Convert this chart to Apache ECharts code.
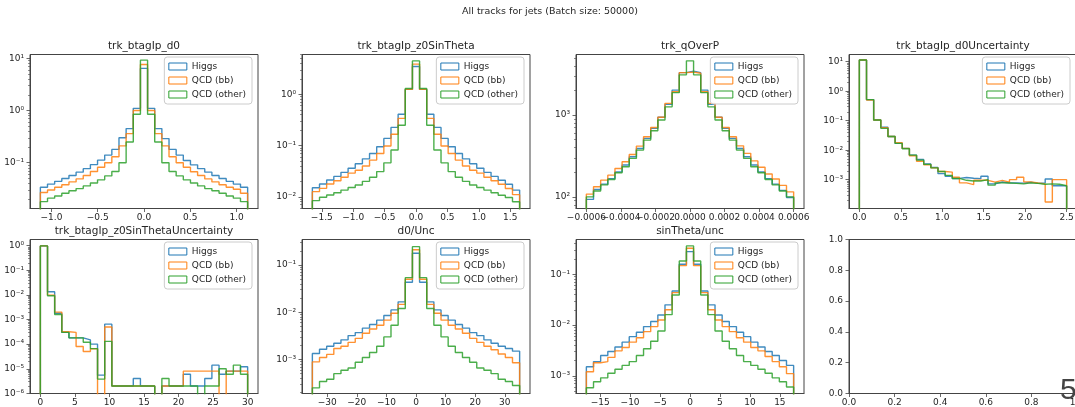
<!DOCTYPE html>
<html><head><meta charset="utf-8">
<script src="https://cdn.jsdelivr.net/npm/echarts@6/dist/echarts.min.js"></script>
<style>html,body{margin:0;padding:0;background:#fff}#c{width:1075px;height:407px}</style>
</head><body><div id="c"></div><script>
// ---------- data ----------
const seriesNames = ['Higgs', 'QCD (bb)', 'QCD (other)'];
const panelTitles = ['trk_btagIp_d0', 'trk_btagIp_z0SinTheta', 'trk_qOverP', 'trk_btagIp_d0Uncertainty',
  'trk_btagIp_z0SinThetaUncertainty', 'd0/Unc', 'sinTheta/unc', ''];
const figTitle = 'All tracks for jets (Batch size: 50000)';

// trk_btagIp_d0
const d0Range = [-1.12, 1.12];
const d0Ticks = [-1.0, -0.5, 0.0, 0.5, 1.0];
const d0Higgs = [0.034,0.039,0.044,0.050,0.057,0.066,0.077,0.092,0.112,0.14,0.18,0.30,0.45,1.1, 6.4, 1.1,0.45,0.29,0.18,0.14,0.11,0.091,0.077,0.066,0.057,0.050,0.044,0.039,0.034];
const d0QcdBB = [0.027,0.030,0.034,0.038,0.043,0.049,0.057,0.068,0.082,0.10,0.13,0.21,0.36,1.0, 7.6, 1.0,0.36,0.21,0.13,0.10,0.082,0.067,0.057,0.049,0.043,0.038,0.034,0.031,0.026];
const d0QcdOther = [0.018,0.021,0.023,0.026,0.029,0.032,0.036,0.041,0.047,0.056,0.068,0.10,0.25,0.85, 9.2, 0.85,0.25,0.10,0.068,0.056,0.047,0.041,0.036,0.032,0.029,0.026,0.023,0.021,0.018];

// trk_btagIp_z0SinTheta
const z0Range = [-1.65, 1.65];
const z0Ticks = [-1.5, -1.0, -0.5, 0.0, 0.5, 1.0, 1.5];
const z0Higgs = [0.015,0.0178,0.0213,0.025,0.030,0.036,0.044,0.055,0.070,0.095,0.138,0.226,0.41,1.25, 3.5, 1.25,0.41,0.226,0.138,0.095,0.070,0.055,0.044,0.036,0.030,0.025,0.021,0.0175,0.0135];
const z0QcdBB = [0.0126,0.0146,0.0178,0.0205,0.024,0.029,0.033,0.040,0.052,0.070,0.098,0.166,0.34,1.25, 3.9, 1.25,0.34,0.166,0.098,0.070,0.052,0.040,0.033,0.029,0.024,0.0205,0.0175,0.0145,0.011];
const z0QcdOther = [0.0084,0.0098,0.0108,0.012,0.0135,0.0152,0.017,0.020,0.024,0.031,0.046,0.082,0.25,1.3, 4.5, 1.3,0.25,0.082,0.046,0.031,0.024,0.020,0.017,0.0152,0.0135,0.012,0.0107,0.0097,0.0080];

// trk_qOverP
const qpRange = [-0.0006, 0.0006];
const qpTicks = [-0.0006, -0.0004, -0.0002, 0.0, 0.0002, 0.0004, 0.0006];
const qpHiggs = [93,123,143,167,202,245,309,390,518,687,940,1350,2020,3300, 3450, 3300,2020,1350,940,687,518,390,309,245,202,167,143,120,98];
const qpQcdBB = [108,133,160,184,222,268,330,417,543,705,940,1390,1930,3300, 3350, 3250,1930,1390,940,705,543,420,340,275,230,190,165,138,115];
const qpQcdOther = [100,118,140,163,197,233,295,373,494,643,870,1260,1880,3100, 4600, 3100,1880,1260,870,643,494,373,295,233,197,163,140,118,100];

// trk_btagIp_d0Uncertainty
const d0uRange = [0, 2.5];
const d0uTicks = [0.0, 0.5, 1.0, 1.5, 2.0, 2.5];
const d0uHiggs = [11.4,0.52,0.105,0.060,0.029,0.017,0.0115,0.0068,0.0048,0.0034,0.0026,0.0016,0.0013,0.0011,0.00118,0.00112,0.00108,0.0013,0.00072,0.00083,0.00078,0.00078,0.00076,0.00082,0.00075,0.00078,0.00105,0.00062,0.00062];
const d0uQcdBB = [11.4,0.50,0.105,0.058,0.029,0.018,0.0115,0.0065,0.0042,0.0032,0.0025,0.0019,0.0018,0.0012,0.00078,0.00068,0.00095,0.00095,0.00082,0.00095,0.00082,0.0010,0.0012,0.00084,0.00077,0.00072,0.000175,0.0010,0.0010];
const d0uQcdOther = [11.4,0.52,0.105,0.055,0.029,0.017,0.0112,0.0068,0.0046,0.0033,0.0025,0.0019,0.0014,0.0011,0.00095,0.0009,0.0009,0.0010,0.00065,0.00078,0.00077,0.00075,0.00072,0.00078,0.00075,0.00070,0.00072,0.00070,0.00062];

// trk_btagIp_z0SinThetaUncertainty
const z0uRange = [0, 30];
const z0uTicks = [0, 5, 10, 15, 20, 25, 30];
const z0uHiggs = [0.98,0.0135,0.0018,0.0003,0.00018,0.00018,0.00015,0.0001,5.5e-6,0.00065,2e-6,2e-6,2e-6,4e-6,2e-6,2e-6,0,2e-6,2e-6,2e-6,6e-6,2e-6,2e-6,4e-6,1.4e-5,6e-6,8e-6,8e-6,1.2e-5];
const z0uQcdBB = [0.98,0.0098,0.002,0.00032,0.0003,0.00008,0.00005,0.000065,0,0.0005,2e-6,2e-6,2e-6,2e-6,2e-6,2e-6,0,2e-6,2e-6,2e-6,8e-6,8e-6,8e-6,8e-6,8e-6,0,8e-6,8e-6,8e-6];
const z0uQcdOther = [0.98,0.0093,0.0016,0.0003,0.00018,0.00018,0.00012,0.000066,3.8e-6,0.00013,2e-6,2e-6,2e-6,2e-6,2e-6,2e-6,0,4e-6,2e-6,2e-6,2e-6,2e-6,0,2e-6,2e-6,1e-5,6e-6,1.4e-5,6e-6];

// d0/Unc
const sigRange = [-35, 35];
const sigTicks = [-30, -20, -10, 0, 10, 20, 30];
const sigHiggs = [0.00134,0.00165,0.0019,0.0022,0.0026,0.0032,0.0037,0.0046,0.0055,0.0068,0.0085,0.0112,0.0166,0.043, 0.177, 0.043,0.0166,0.0112,0.0085,0.0068,0.0055,0.0046,0.0037,0.0032,0.0026,0.0022,0.0019,0.0017,0.0015];
const sigQcdBB = [0.00089,0.0011,0.00128,0.0017,0.0019,0.0023,0.0028,0.0036,0.0044,0.0053,0.0068,0.0095,0.0147,0.05, 0.21, 0.05,0.0147,0.0095,0.0068,0.0053,0.0044,0.0036,0.0028,0.0023,0.0019,0.0016,0.0013,0.0011,0.00085];
const sigQcdOther = [0.00025,0.00034,0.00038,0.0005,0.00059,0.00066,0.00087,0.0011,0.0014,0.0019,0.003,0.0053,0.012,0.054, 0.245, 0.054,0.012,0.0053,0.003,0.0019,0.0014,0.0011,0.00087,0.00066,0.00059,0.0005,0.00038,0.00034,0.00028];

// sinTheta/unc
const stRange = [-17.3, 17.3];
const stTicks = [-15, -10, -5, 0, 5, 10, 15];
const stHiggs = [0.0015,0.0019,0.0025,0.003,0.0037,0.0046,0.0059,0.0072,0.0093,0.0117,0.0158,0.025,0.047,0.158, 0.28, 0.158,0.047,0.025,0.0158,0.0117,0.0093,0.0072,0.0059,0.0046,0.0037,0.003,0.0025,0.002,0.0016];
const stQcdBB = [0.0012,0.0018,0.0019,0.0023,0.0031,0.0036,0.0046,0.0056,0.0074,0.0093,0.0126,0.02,0.0435,0.148, 0.326, 0.148,0.0435,0.02,0.0126,0.0093,0.0074,0.0056,0.0046,0.0036,0.0031,0.0024,0.0019,0.0015,0.0011];
const stQcdOther = [0.00058,0.00076,0.00091,0.00112,0.00134,0.0016,0.0019,0.0025,0.0034,0.0048,0.0076,0.016,0.039,0.183, 0.363, 0.183,0.039,0.016,0.0076,0.0048,0.0034,0.0025,0.0019,0.0016,0.00134,0.00112,0.00091,0.00076,0.0006];

// empty panel
const emptyTicks = [0.0, 0.2, 0.4, 0.6, 0.8, 1.0];

// ---------- layout / style ----------
const colors = ['#1f77b4', '#ff7f0e', '#2ca02c'];
const FONT = 'DejaVu Sans';
const colLeft = [30, 302, 576, 849];
const rowTop = [54.5, 239.5];
const PW = 228, PH = 154;

const panels = [
  {range: d0Range, ticks: d0Ticks, dec: 1, data: [d0Higgs, d0QcdBB, d0QcdOther], yMin: 0.0133, yMax: 11.8},
  {range: z0Range, ticks: z0Ticks, dec: 1, data: [z0Higgs, z0QcdBB, z0QcdOther], yMin: 0.0059, yMax: 6.0},
  {range: qpRange, ticks: qpTicks, dec: 4, data: [qpHiggs, qpQcdBB, qpQcdOther], yMin: 72, yMax: 5500, splitLabels: true},
  {range: d0uRange, ticks: d0uTicks, dec: 1, data: [d0uHiggs, d0uQcdBB, d0uQcdOther], yMin: 0.000105, yMax: 17.6},
  {range: z0uRange, ticks: z0uTicks, dec: 0, data: [z0uHiggs, z0uQcdBB, z0uQcdOther], yMin: 0.99e-6, yMax: 1.78},
  {range: sigRange, ticks: sigTicks, dec: 0, data: [sigHiggs, sigQcdBB, sigQcdOther], yMin: 0.00019, yMax: 0.347},
  {range: stRange, ticks: stTicks, dec: 0, data: [stHiggs, stQcdBB, stQcdOther], yMin: 0.000447, yMax: 0.485},
  {range: [0, 1], ticks: emptyTicks, dec: 1, data: null}
];

const SUP = {'-': '\u207B', '0': '\u2070', '1': '\u00B9', '2': '\u00B2', '3': '\u00B3', '4': '\u2074', '5': '\u2075', '6': '\u2076', '7': '\u2077', '8': '\u2078', '9': '\u2079'};
function fmtLog(v) {
  const e = Math.round(Math.log10(v));
  return '10' + String(e).split('').map(c => SUP[c]).join('');
}
function fmtX(dec) {
  return v => {
    let s = (Math.abs(v) < 1e-12 ? 0 : v).toFixed(dec);
    return s.replace('-', '\u2212');
  };
}
function majors(lo, hi) {
  const out = [];
  for (let k = Math.ceil(Math.log10(lo) - 1e-9); k <= Math.floor(Math.log10(hi) + 1e-9); k++) out.push(Math.pow(10, k));
  return out;
}
function minors(lo, hi) {
  const out = [];
  for (let k = Math.floor(Math.log10(lo)); k <= Math.ceil(Math.log10(hi)); k++) {
    for (let m = 2; m <= 9; m++) { const v = m * Math.pow(10, k); if (v >= lo && v <= hi) out.push(v); }
  }
  return out;
}
function stepPoints(range, vals, floor) {
  const n = vals.length, lo = range[0], hi = range[1];
  const edge = i => lo + (hi - lo) * i / n;
  const pts = [[edge(0), floor]];
  vals.forEach((v, i) => pts.push([edge(i), v > 0 ? v : floor]));
  const last = vals[n - 1];
  pts.push([edge(n), last > 0 ? last : floor]);
  pts.push([edge(n), floor]);
  return pts;
}

const textColor = '#262626';
const axisColor = '#444';
const grids = [], xAxes = [], yAxes = [], series = [], legends = [], graphics = [];
const labelStyle = {fontFamily: FONT, fontSize: 9, color: textColor};

panels.forEach((p, i) => {
  const col = i % 4, row = Math.floor(i / 4);
  const left = colLeft[col], top = rowTop[row];
  grids.push({left: left, top: top, width: PW, height: PH, show: true, borderColor: axisColor, borderWidth: 1,
    backgroundColor: 'transparent', outerBoundsMode: 'none', containLabel: false});
  const span = p.range[1] - p.range[0];
  const xmin = p.data ? p.range[0] - 0.05 * span : 0;
  const xmax = p.data ? p.range[1] + 0.05 * span : 1;
  const mainLabels = p.splitLabels ? p.ticks.filter((t, j) => j % 2 === 0) : p.ticks;
  const mainXIndex = xAxes.length;
  xAxes.push({
    gridIndex: i, type: 'value', min: xmin, max: xmax, position: 'bottom',
    axisLine: {show: true, onZero: false, lineStyle: {color: axisColor, width: 1}},
    axisTick: {show: true, length: 3.5, customValues: p.ticks, lineStyle: {color: axisColor, width: 0.8}},
    axisLabel: Object.assign({show: true, customValues: mainLabels, interval: 0, formatter: fmtX(p.dec),
      margin: 5, hideOverlap: false, showMinLabel: true, showMaxLabel: true}, labelStyle),
    splitLine: {show: false}
  });
  if (p.splitLabels) {
    // second label row (same axis scale) so that overlapping labels are all kept, as in the original
    xAxes.push({
      gridIndex: i, type: 'value', min: xmin, max: xmax, position: 'bottom', offset: 0,
      axisLine: {show: false, onZero: false}, axisTick: {show: false},
      axisLabel: Object.assign({show: true, customValues: p.ticks.filter((t, j) => j % 2 === 1), interval: 0, formatter: fmtX(p.dec),
        margin: 5, hideOverlap: false, showMinLabel: true, showMaxLabel: true}, labelStyle),
      splitLine: {show: false}
    });
  }
  const majorAxisIndex = yAxes.length;
  if (p.data) {
    yAxes.push({
      gridIndex: i, type: 'log', logBase: 10, min: p.yMin, max: p.yMax, position: 'left',
      axisLine: {show: true, onZero: false, lineStyle: {color: axisColor, width: 1}},
      axisTick: {show: true, length: 3.5, customValues: majors(p.yMin, p.yMax), lineStyle: {color: axisColor, width: 0.8}},
      axisLabel: Object.assign({show: true, customValues: majors(p.yMin, p.yMax), interval: 0, formatter: fmtLog, margin: 6}, labelStyle),
      splitLine: {show: false}
    });
    yAxes.push({
      gridIndex: i, type: 'log', logBase: 10, min: p.yMin, max: p.yMax, position: 'left', offset: 0,
      axisLine: {show: false, onZero: false},
      axisTick: {show: true, length: 2, customValues: minors(p.yMin, p.yMax), lineStyle: {color: axisColor, width: 0.6}},
      axisLabel: {show: false},
      splitLine: {show: false}
    });
    const floor = p.yMin * 1e-3;
    p.data.forEach((vals, k) => {
      series.push({
        name: seriesNames[k], type: 'line', xAxisIndex: mainXIndex, yAxisIndex: majorAxisIndex,
        data: stepPoints(p.range, vals, floor), step: 'end', showSymbol: false, symbol: 'none',
        clip: true, silent: true,
        lineStyle: {color: colors[k], width: 1.4, opacity: 0.85}, itemStyle: {color: colors[k]}, z: 2 + k
      });
    });
    legends.push({
      orient: 'vertical', right: [823, 551, 277, 5][col], top: top + 2.5,
      icon: 'rect', itemWidth: 18, itemHeight: 7, itemGap: 3,
      padding: [4, 6, 4, 4], backgroundColor: 'rgba(255,255,255,0.8)',
      borderColor: '#cccccc', borderWidth: 1, borderRadius: 3, selectedMode: false,
      textStyle: {fontFamily: FONT, fontSize: 9, color: textColor, lineHeight: 11},
      data: seriesNames.map((n, k) => ({name: n, itemStyle: {color: 'transparent', borderColor: colors[k], borderWidth: 1}}))
    });
    graphics.push({type: 'text', x: left + PW / 2, y: top - 8, silent: true,
      style: {text: panelTitles[i], fill: textColor, font: '10.5px "DejaVu Sans"', textAlign: 'center', textVerticalAlign: 'middle'}});
  } else {
    yAxes.push({
      gridIndex: i, type: 'value', min: 0, max: 1, position: 'left',
      axisLine: {show: true, onZero: false, lineStyle: {color: axisColor, width: 1}},
      axisTick: {show: true, length: 3.5, customValues: emptyTicks, lineStyle: {color: axisColor, width: 0.8}},
      axisLabel: Object.assign({show: true, customValues: emptyTicks, interval: 0, formatter: fmtX(1), margin: 6}, labelStyle),
      splitLine: {show: false}
    });
  }
});

graphics.push({type: 'text', x: 550, y: 12, silent: true,
  style: {text: figTitle, fill: textColor, font: '9.5px "DejaVu Sans"', textAlign: 'center', textVerticalAlign: 'middle'}});
graphics.push({type: 'text', x: 1060, y: 391, silent: true, z: 100,
  style: {text: '5', fill: '#444', font: '30px "Liberation Sans"', textAlign: 'left', textVerticalAlign: 'middle'}});

const chart = echarts.init(document.getElementById('c'), null, {renderer: 'canvas', width: 1075, height: 407});
chart.setOption({
  animation: false,
  backgroundColor: '#fff',
  grid: grids, xAxis: xAxes, yAxis: yAxes, series: series, legend: legends,
  graphic: graphics
});
</script></body></html>
